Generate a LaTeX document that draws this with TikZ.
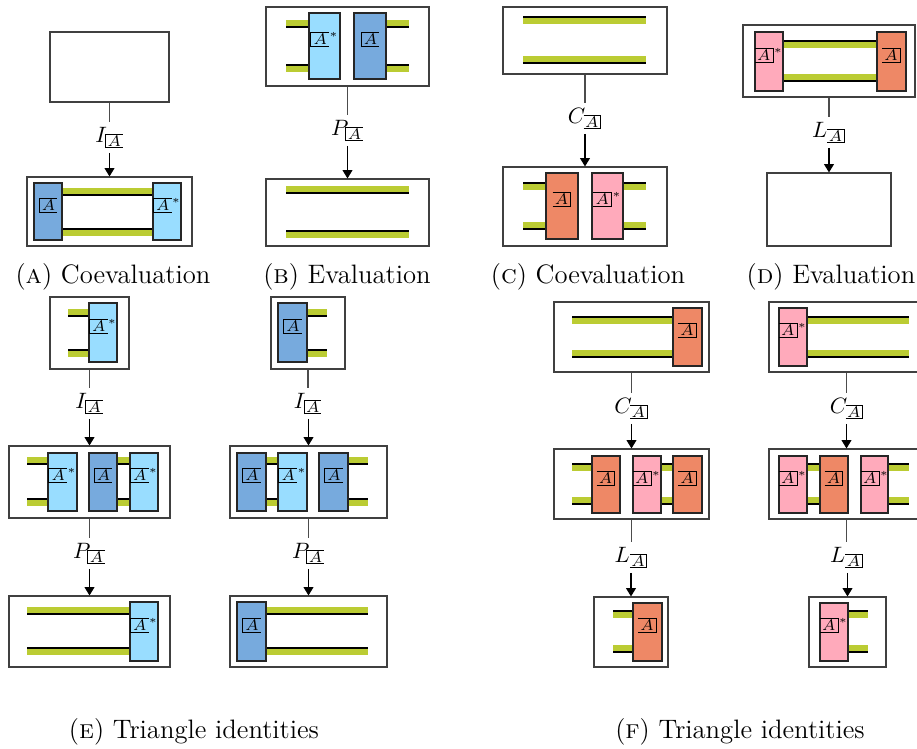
\documentclass[tikz,border=0pt]{standalone}
\usepackage{fix-cm}
\usepackage{fontspec}
\usetikzlibrary{fit,arrows.meta}
\definecolor{dblue}{HTML}{77AADD}
\definecolor{lblue}{HTML}{99DDFF}
\definecolor{orng}{HTML}{EE8866}
\definecolor{pnk}{HTML}{FFAABB}
\definecolor{wgreen}{HTML}{BBCC33}
\newdimen\symh \newdimen\symd \newdimen\symw
\newcommand{\LBx}[2][1pt]{\hbox{\setbox0=\hbox{\kern#1 #2\kern#1}%
 \symh=\dimexpr\ht0+#1\relax \symd=\dimexpr\dp0+#1\relax \symw=\wd0
 \vrule width .45pt height\symh depth\symd
 \rlap{\vrule width\symw height\symh depth\dimexpr .45pt-\symh\relax}%
 \rlap{\vrule width\symw height\dimexpr .45pt-\symd\relax depth\symd}%
 \box0}}
\newcommand{\RBx}[2][1pt]{\hbox{\setbox0=\hbox{\kern#1 #2\kern#1}%
 \symh=\dimexpr\ht0+#1\relax \symd=\dimexpr\dp0+#1\relax \symw=\wd0
 \copy0
 \llap{\vrule width\symw height\symh depth\dimexpr .45pt-\symh\relax}%
 \llap{\vrule width\symw height\dimexpr .45pt-\symd\relax depth\symd}%
 \vrule width .45pt height\symh depth\symd}}
\newcommand{\wgu}[3]{\fill[wg] (#1,#3-7) rectangle (#2,#3-1); \fill[wb] (#1,#3-1) rectangle (#2,#3+1);}
\newcommand{\wgd}[3]{\fill[wb] (#1,#3-1) rectangle (#2,#3+1); \fill[wg] (#1,#3+1) rectangle (#2,#3+7);}
\newcommand{\sA}{\LBx[0.7pt]{$\scriptstyle A$}}
\newcommand{\sR}{\RBx[0.7pt]{$\scriptstyle A$}}
\newcommand{\bLA}{$\LBx{$A$}$}
\newcommand{\bLS}{$\LBx{$A$}^{*}$}
\newcommand{\bRA}{$\RBx{$A$}$}
\newcommand{\bRS}{$\RBx{$A$}^{*}$}
\tikzset{
 framebox/.style={draw=black!75, line width=0.5pt, inner sep=0pt},
 blk/.style={draw=black!85, line width=0.5pt, inner sep=0pt, font=\fontsize{7}{8}\selectfont},
 bd/.style={blk, fill=dblue}, bl/.style={blk, fill=lblue},
 bo/.style={blk, fill=orng}, bp/.style={blk, fill=pnk},
 labtxt/.style={inner xsep=0pt, inner ysep=2pt, anchor=base, font=\fontsize{10}{12}\selectfont},
 conn/.style={draw=black!70, line width=0.5pt},
 arr/.style={draw=black, line width=0.5pt, -{Triangle[length=3.8pt,width=4.5pt]}},
 captxt/.style={inner sep=0pt, font=\fontsize{12}{14}\selectfont},
 wg/.style={fill=wgreen}, wb/.style={fill=black}
}
\begin{document}
\begin{tikzpicture}[x=0.45pt,y=-0.45pt]
\useasboundingbox (0,0) rectangle (917,749);
\clip (0,0) rectangle (917,749);
% ---------- A ----------
\node[framebox, fit={(50,32) (169,102)}] (A0) {};
\node[framebox, fit={(27,177) (192,246)}] (A1) {};
\wgu{62}{153}{195} \wgd{62}{153}{229}
\node[bd, fit={(34,183) (62,240)}] (A1a) {\bLA};
\node[bl, fit={(153,183) (181,240)}] (A1b) {\bLS};
\node[labtxt] (IA) at (109.5,142) {$I_{\sA}$};
\draw[conn] (A0.south) -- (A0.south |- IA.north);
\draw[arr] (IA.south -| A1.north) -- (A1.north);
\node[captxt] (capA) at (113,277) {(\textsc{a}) Coevaluation};
% ---------- B ----------
\node[framebox, fit={(266,7) (429,86)}] (B0) {};
\wgu{286}{309}{27} \wgd{286}{309}{65} \wgu{386}{409}{27} \wgd{386}{409}{65}
\node[bl, fit={(309,13) (340,79)}] (B0a) {\bLS};
\node[bd, fit={(354,13) (386,79)}] (B0b) {\bLA};
\node[framebox, fit={(266,179) (429,246)}] (B1) {};
\wgu{286}{409}{193} \wgd{286}{409}{231}
\node[labtxt] (PB) at (347.5,135) {$P_{\sA}$};
\draw[conn] (B0.south) -- (B0.south |- PB.north);
\draw[arr] (PB.south -| B1.north) -- (B1.north);
\node[captxt] (capB) at (347,277) {(\textsc{b}) Evaluation};
% ---------- C ----------
\node[framebox, fit={(503,7) (667,74)}] (C0) {};
\wgd{523}{646}{17} \wgu{523}{646}{63}
\node[framebox, fit={(503,167) (667,246)}] (C1) {};
\wgd{523}{546}{183} \wgu{523}{546}{229} \wgd{623}{646}{183} \wgu{623}{646}{229}
\node[bo, fit={(546,173) (578,239)}] (C1a) {\bRA};
\node[bp, fit={(592,173) (623,239)}] (C1b) {\bRS};
\node[labtxt] (CC) at (585,123) {$C_{\sR}$};
\draw[conn] (C0.south) -- (C0.south |- CC.north);
\draw[arr] (CC.south -| C1.north) -- (C1.north);
\node[captxt] (capC) at (588,277) {(\textsc{c}) Coevaluation};
% ---------- D ----------
\node[framebox, fit={(743,25) (915,97)}] (D0) {};
\wgd{783}{877}{41} \wgu{783}{877}{81}
\node[bp, fit={(755,32) (783,91)}] (D0a) {\bRS};
\node[bo, fit={(877,32) (906,91)}] (D0b) {\bRA};
\node[framebox, fit={(767,173) (891,246)}] (D1) {};
\node[labtxt] (LD) at (829,137) {$L_{\sR}$};
\draw[conn] (D0.south) -- (D0.south |- LD.north);
\draw[arr] (LD.south -| D1.north) -- (D1.north);
\node[captxt] (capD) at (831,277) {(\textsc{d}) Evaluation};
% ---------- E left ----------
\node[framebox, fit={(50,297) (129,369)}] (E0) {};
\wgu{68}{89}{316} \wgd{68}{89}{350}
\node[bl, fit={(89,303) (117,362)}] (E0a) {\bLS};
\node[framebox, fit={(9,446) (170,518)}] (E1) {};
\wgu{27}{48}{464} \wgd{27}{48}{499} \wgu{117}{130}{464} \wgd{117}{130}{499}
\node[bl, fit={(48,453) (77,511)}] (E1a) {\bLS};
\node[bd, fit={(89,453) (117,511)}] (E1b) {\bLA};
\node[bl, fit={(130,453) (158,511)}] (E1c) {\bLS};
\node[framebox, fit={(9,596) (170,667)}] (E2) {};
\wgu{27}{130}{614} \wgd{27}{130}{648}
\node[bl, fit={(130,602) (158,661)}] (E2a) {\bLS};
\node[labtxt] (IE) at (89.5,408) {$I_{\sA}$};
\draw[conn] (E0.south) -- (E0.south |- IE.north);
\draw[arr] (IE.south -| E1.north) -- (E1.north);
\node[labtxt] (PE) at (89.5,558) {$P_{\sA}$};
\draw[conn] (E1.south) -- (E1.south |- PE.north);
\draw[arr] (PE.south -| E2.north) -- (E2.north);
% ---------- E right ----------
\node[framebox, fit={(271,297) (345,369)}] (Er0) {};
\wgu{307}{327}{316} \wgd{307}{327}{350}
\node[bd, fit={(278,303) (307,362)}] (Er0a) {\bLA};
\node[framebox, fit={(230,446) (387,518)}] (Er1) {};
\wgu{266}{278}{464} \wgd{266}{278}{499} \wgu{348}{368}{464} \wgd{348}{368}{499}
\node[bd, fit={(237,453) (266,511)}] (Er1a) {\bLA};
\node[bl, fit={(278,453) (307,511)}] (Er1b) {\bLS};
\node[bd, fit={(319,453) (348,511)}] (Er1c) {\bLA};
\node[framebox, fit={(230,596) (387,667)}] (Er2) {};
\wgu{266}{368}{614} \wgd{266}{368}{648}
\node[bd, fit={(237,602) (266,661)}] (Er2a) {\bLA};
\node[labtxt] (IEr) at (308,408) {$I_{\sA}$};
\draw[conn] (Er0.south) -- (Er0.south |- IEr.north);
\draw[arr] (IEr.south -| Er1.north) -- (Er1.north);
\node[labtxt] (PEr) at (308.5,558) {$P_{\sA}$};
\draw[conn] (Er1.south) -- (Er1.south |- PEr.north);
\draw[arr] (PEr.south -| Er2.north) -- (Er2.north);
\node[captxt] (capE) at (194,732) {(\textsc{e}) Triangle identities};
% ---------- F left ----------
\node[framebox, fit={(554,302) (709,372)}] (F0) {};
\wgd{572}{673}{317} \wgu{572}{673}{357}
\node[bo, fit={(673,308) (702,366)}] (F0a) {\bRA};
\node[framebox, fit={(554,449) (709,519)}] (F1) {};
\wgd{572}{592}{464} \wgu{572}{592}{504} \wgd{661}{673}{464} \wgu{661}{673}{504}
\node[bo, fit={(592,456) (620,513)}] (F1a) {\bRA};
\node[bp, fit={(633,456) (661,513)}] (F1b) {\bRS};
\node[bo, fit={(673,456) (702,513)}] (F1c) {\bRA};
\node[framebox, fit={(594,597) (668,667)}] (F2) {};
\wgd{613}{633}{611} \wgu{613}{633}{652}
\node[bo, fit={(633,603) (662,661)}] (F2a) {\bRA};
\node[labtxt] (CF) at (631.5,413) {$C_{\sR}$};
\draw[conn] (F0.south) -- (F0.south |- CF.north);
\draw[arr] (CF.south -| F1.north) -- (F1.north);
\node[labtxt] (LF) at (631.5,562) {$L_{\sR}$};
\draw[conn] (F1.south) -- (F1.south |- LF.north);
\draw[arr] (LF.south -| F2.north) -- (F2.north);
% ---------- F right ----------
\node[framebox, fit={(769,302) (924,372)}] (Fr0) {};
\wgd{807}{909}{317} \wgu{807}{909}{357}
\node[bp, fit={(779,308) (807,366)}] (Fr0a) {\bRS};
\node[framebox, fit={(769,449) (924,519)}] (Fr1) {};
\wgd{807}{820}{464} \wgu{807}{820}{504} \wgd{888}{909}{464} \wgu{888}{909}{504}
\node[bp, fit={(779,456) (807,513)}] (Fr1a) {\bRS};
\node[bo, fit={(820,456) (848,513)}] (Fr1b) {\bRA};
\node[bp, fit={(861,456) (888,513)}] (Fr1c) {\bRS};
\node[framebox, fit={(809,597) (886,667)}] (Fr2) {};
\wgd{848}{868}{611} \wgu{848}{868}{652}
\node[bp, fit={(820,603) (848,661)}] (Fr2a) {\bRS};
\node[labtxt] (CFr) at (847,413) {$C_{\sR}$};
\draw[conn] (Fr0.south) -- (Fr0.south |- CFr.north);
\draw[arr] (CFr.south -| Fr1.north) -- (Fr1.north);
\node[labtxt] (LFr) at (847,562) {$L_{\sR}$};
\draw[conn] (Fr1.south) -- (Fr1.south |- LFr.north);
\draw[arr] (LFr.south -| Fr2.north) -- (Fr2.north);
\node[captxt] (capF) at (740,732) {(\textsc{f}) Triangle identities};
\end{tikzpicture}
\end{document}
